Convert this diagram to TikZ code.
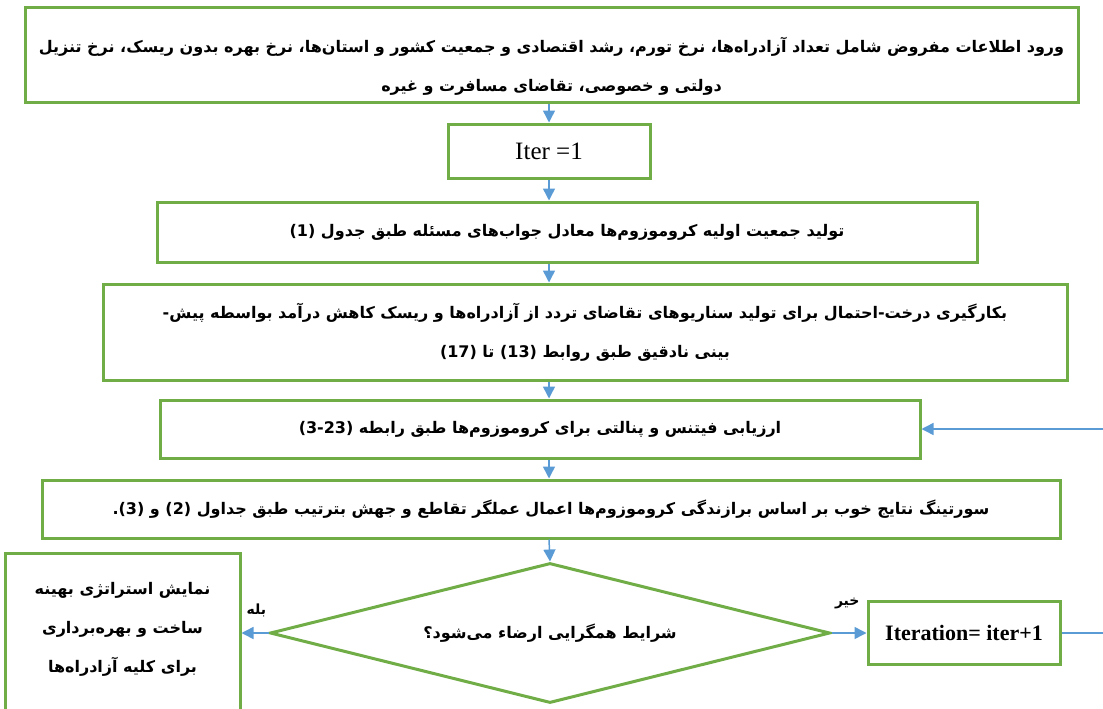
\documentclass[tikz,border=0pt]{standalone}
\usepackage{fontspec}
\setmainfont{Liberation Serif}
\newfontfamily\farsi[Script=Arabic]{DejaVu Sans}
\TeXXeTstate=1
\usetikzlibrary{arrows.meta,shapes.geometric}
\definecolor{boxgreen}{RGB}{112,173,71}
\definecolor{flowblue}{RGB}{91,155,213}
\newcommand{\rl}[1]{\beginR#1\endR}
\newcommand{\lr}[1]{\beginL#1\endL}

\begin{document}
\begin{tikzpicture}[x=1pt, y=-1pt, >={Triangle[width=12pt,length=12pt]},
  box/.style={draw=boxgreen, line width=3pt, inner sep=2pt, align=center,
    font=\farsi\bfseries\fontsize{16}{39}\selectfont},
  flow/.style={->, draw=flowblue, line width=1.5pt},
  tag/.style={font=\farsi\bfseries\fontsize{14}{16}\selectfont, inner sep=1pt}]
  \useasboundingbox (0,0) rectangle (1103,709);
  % boxes of the loop
  \node[box, minimum width=1053pt, minimum height=94pt, text height=77pt] (input) at (551.5,55)
    {\rl{ورود اطلاعات مفروض شامل تعداد آزادراه‌ها، نرخ تورم، رشد اقتصادی و جمعیت کشور و استان‌ها، نرخ بهره بدون ریسک، نرخ تنزیل}\\
     \rl{دولتی و خصوصی، تقاضای مسافرت و غیره}};
  \node[box, font=\fontsize{25}{27}\selectfont, minimum width=202pt, minimum height=54pt] (iter) at (549,151) {Iter =1};
  \node[box, minimum width=820pt, minimum height=60pt] (init) at (567,232)
    {\rl{تولید جمعیت اولیه کروموزوم‌ها معادل جواب‌های مسئله طبق جدول \lr{(1)}}};
  \node[box, minimum width=964pt, minimum height=96pt] (tree) at (585,332)
    {\rl{بکارگیری درخت\kern0pt-\kern0pt احتمال برای تولید سناریوهای تقاضای تردد از آزادراه‌ها و ریسک کاهش درآمد بواسطه پیش\kern0pt-}\\
     \rl{بینی نادقیق طبق روابط \lr{(13)} تا \lr{(17)}}};
  \node[box, minimum width=760pt, minimum height=58pt] (fit) at (540,429)
    {\rl{ارزیابی فیتنس و پنالتی برای کروموزوم‌ها طبق رابطه \lr{(3-23)}}};
  \node[box, minimum width=1018pt, minimum height=58pt] (sort) at (551,509)
    {\rl{سورتینگ نتایج خوب بر اساس برازندگی کروموزوم‌ها اعمال عملگر تقاطع و جهش بترتیب طبق جداول \lr{(2)} و \lr{(3).}}};
  \node[box, diamond, aspect=4, inner sep=0pt, minimum width=560pt, minimum height=140pt] (check) at (550,633)
    {\rl{شرایط همگرایی ارضاء می‌شود؟}};
  \node[box, minimum width=235pt, minimum height=188pt] (result) at (122.5,647)
    {\rl{نمایش استراتژی بهینه}\\ \rl{ساخت و بهره‌برداری}\\ \rl{برای کلیه آزادراه‌ها}\\ ~};
  \node[box, font=\bfseries\fontsize{22}{24}\selectfont, minimum width=192pt, minimum height=63pt] (next) at (964,633)
    {Iteration= iter+1};
  % connectors
  \draw[flow] (input.south -| iter.north) -- (iter.north);
  \draw[flow] (iter.south) -- (iter.south |- init.north);
  \draw[flow] (iter.south |- init.south) -- (iter.south |- tree.north);
  \draw[flow] (iter.south |- tree.south) -- (iter.south |- fit.north);
  \draw[flow] (iter.south |- fit.south) -- (iter.south |- sort.north);
  \draw[flow] (iter.south |- sort.south) -- (check.north);
  \draw[flow] (check.west) -- (check.west -| result.east) node[tag, pos=0.45, above=14pt] {\rl{بله}};
  \draw[flow] (check.east) -- (check.east -| next.west) node[tag, pos=0.45, above=22pt] {\rl{خیر}};
  \draw[flow, -] (next.east) -- ++(80,0) coordinate (back);
  \draw[flow] (back) |- (fit.east);
\end{tikzpicture}
\end{document}
